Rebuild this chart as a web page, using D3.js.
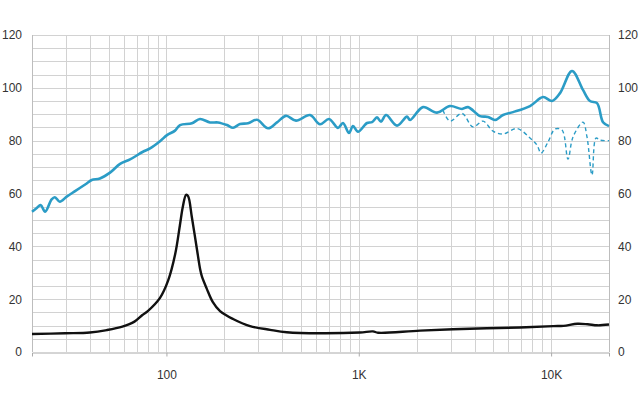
<!DOCTYPE html>
<html>
<head>
<meta charset="utf-8">
<script src="https://cdn.jsdelivr.net/npm/d3@7"></script>
<style>
  html, body { margin: 0; padding: 0; background: #fff; }
  svg { display: block; }
  text { font-family: "Liberation Sans", Arial, sans-serif; font-size: 12px; fill: #333; }
</style>
</head>
<body>
<svg id="chart" width="640" height="400"></svg>
<script>
// Frequency response (solid, on-axis) — Hz, dB
const splFreq = [20, 21.1, 22.2, 23.4, 25.3, 26.3, 27.9, 30.3, 33.5, 38.5, 40.9, 45.1, 50.9, 57.4, 64.7, 75.5, 82.2, 92.6, 100.7, 110.8, 117.7, 135.8, 149.4, 168.5, 185.4, 206.5, 222, 241.4, 265.6, 295.8, 337.4, 375.7, 418.5, 471.6, 557.8, 628.9, 700.4, 780.1, 827.9, 889.6, 933.3, 990.9, 1104, 1172, 1244, 1305, 1386, 1581, 1782, 1847, 2158, 2552, 2981, 3443, 3698, 4269, 4698, 5111, 5624, 6340, 7769, 9079, 10110, 11130, 12846, 14650, 15930, 17330, 18620, 20000];
const splDb   = [53.1, 54.4, 55.6, 53.1, 57.8, 58.6, 56.9, 58.8, 60.9, 63.8, 65.1, 65.7, 67.9, 71.2, 72.9, 75.8, 77.1, 79.8, 82.1, 83.8, 85.9, 86.6, 88.2, 86.9, 86.9, 85.9, 84.9, 86.3, 86.6, 87.9, 84.7, 86.9, 89.4, 87.6, 89.7, 86.2, 88.2, 84.8, 86.7, 82.9, 85.5, 83.4, 86.7, 87.0, 88.8, 87.2, 89.7, 85.7, 89.1, 87.8, 92.7, 90.6, 93.1, 92.0, 92.7, 89.3, 89.0, 87.8, 89.7, 90.8, 93.1, 96.5, 95.0, 98.0, 106.4, 99.2, 95.0, 94.2, 87.0, 85.5];

// Off-axis response (dashed) — Hz, dB
const offFreq = [2741, 2981, 3443, 3926, 4426, 4989, 5624, 6650, 7769, 8450, 8862, 9640, 10480, 11400, 12240, 13000, 14650, 15370, 16320, 17120, 17970, 20000];
const offDb   = [91.5, 87.4, 90.3, 85.2, 87.4, 83.6, 82.5, 84.6, 81.0, 78.3, 75.3, 79.5, 84.4, 84.0, 73.0, 81.4, 87.0, 81.4, 67.0, 81.0, 80.2, 80.0];

// Impedance (black) — Hz, ohm
const impFreq = [20, 29.7, 40, 49, 59, 68.2, 75, 80, 92.6, 102, 111, 117.5, 121.7, 126.5, 129.6, 135.6, 144, 150, 153, 162, 174, 190, 222, 272, 346, 422, 629, 1014, 1185, 1260, 2083, 3780, 6862, 10280, 11600, 13700, 15500, 17400, 20000];
const impOhm  = [6.8, 7.1, 7.4, 8.3, 9.6, 11.5, 14.0, 15.5, 20.5, 27.0, 37.0, 48.0, 55.0, 59.5, 59.0, 51.0, 39.0, 31.0, 28.5, 24.0, 19.0, 15.5, 12.5, 9.8, 8.4, 7.5, 7.1, 7.4, 7.8, 7.3, 8.1, 8.8, 9.3, 9.8, 9.9, 10.7, 10.5, 10.1, 10.4];

// Axis ticks
const yTicks = [0, 20, 40, 60, 80, 100, 120];
const xTickVals = [100, 1000, 10000];
const xTickLabels = ["100", "1K", "10K"];

const svg = d3.select("#chart");
const m = { left: 32, right: 31, top: 35, bottom: 48 };
const W = 640, H = 400;

const x = d3.scaleLog().domain([20, 20000]).range([m.left, W - m.right]);
const y = d3.scaleLinear().domain([0, 120]).range([H - m.bottom, m.top]);

// grid lines
const vGrid = [];
for (let dec = 10; dec <= 10000; dec *= 10) {
  for (let k = 1; k <= 9; k++) {
    const f = dec * k;
    if (f > 20 && f < 20000) vGrid.push(f);
  }
}
const hGrid = d3.range(5, 121, 5);

const g = svg.append("g");
g.selectAll("line.h").data(hGrid).join("line")
  .attr("x1", x(20)).attr("x2", x(20000))
  .attr("y1", d => Math.round(y(d)) + 0.5).attr("y2", d => Math.round(y(d)) + 0.5)
  .attr("stroke", "#d2d2d2").attr("stroke-width", 1);
g.selectAll("line.v").data(vGrid).join("line")
  .attr("x1", d => Math.round(x(d)) + 0.5).attr("x2", d => Math.round(x(d)) + 0.5)
  .attr("y1", y(0)).attr("y2", y(120))
  .attr("stroke", "#d2d2d2").attr("stroke-width", 1);

// side axes (vertical lines)
[20, 20000].forEach(f => {
  g.append("line")
    .attr("x1", Math.round(x(f)) + 0.5).attr("x2", Math.round(x(f)) + 0.5)
    .attr("y1", y(0)).attr("y2", y(120))
    .attr("stroke", "#bdbdbd").attr("stroke-width", 1);
});

// bottom axis
const xAxis = d3.axisBottom(x).tickValues(xTickVals)
  .tickFormat((d, i) => xTickLabels[i]).tickSize(4).tickPadding(14);
const xa = svg.append("g").attr("transform", `translate(0,${Math.round(y(0)) + 0.5})`).call(xAxis);
xa.select(".domain").attr("stroke", "#aaa");
xa.selectAll(".tick line").attr("stroke", "#aaa");
xa.selectAll("text").style("font-size", "12px").attr("fill", "#333");

// left axis labels
const yl = d3.axisLeft(y).tickValues(yTicks).tickSize(0).tickPadding(10);
const yla = svg.append("g").attr("transform", `translate(${x(20)},0)`).call(yl);
yla.select(".domain").remove();
yla.selectAll("text").style("font-size", "12px").attr("fill", "#333");

const yr = d3.axisRight(y).tickValues(yTicks).tickSize(0).tickPadding(9);
const yra = svg.append("g").attr("transform", `translate(${x(20000)},0)`).call(yr);
yra.select(".domain").remove();
yra.selectAll("text").style("font-size", "12px").attr("fill", "#333");

// lines
const line = d3.line().x(d => x(d[0])).y(d => y(d[1])).curve(d3.curveCatmullRom.alpha(0.5));

svg.append("path")
  .datum(impFreq.map((f, i) => [f, impOhm[i]]))
  .attr("d", line).attr("fill", "none")
  .attr("stroke", "#111").attr("stroke-width", 2.4).attr("stroke-linejoin", "round");

svg.append("path")
  .datum(offFreq.map((f, i) => [f, offDb[i]]))
  .attr("d", line).attr("fill", "none")
  .attr("stroke", "#2b9cc6").attr("stroke-width", 1.4).attr("stroke-dasharray", "4,3");

svg.append("path")
  .datum(splFreq.map((f, i) => [f, splDb[i]]))
  .attr("d", line).attr("fill", "none")
  .attr("stroke", "#2b9cc6").attr("stroke-width", 2.6).attr("stroke-linejoin", "round");
</script>
</body>
</html>
